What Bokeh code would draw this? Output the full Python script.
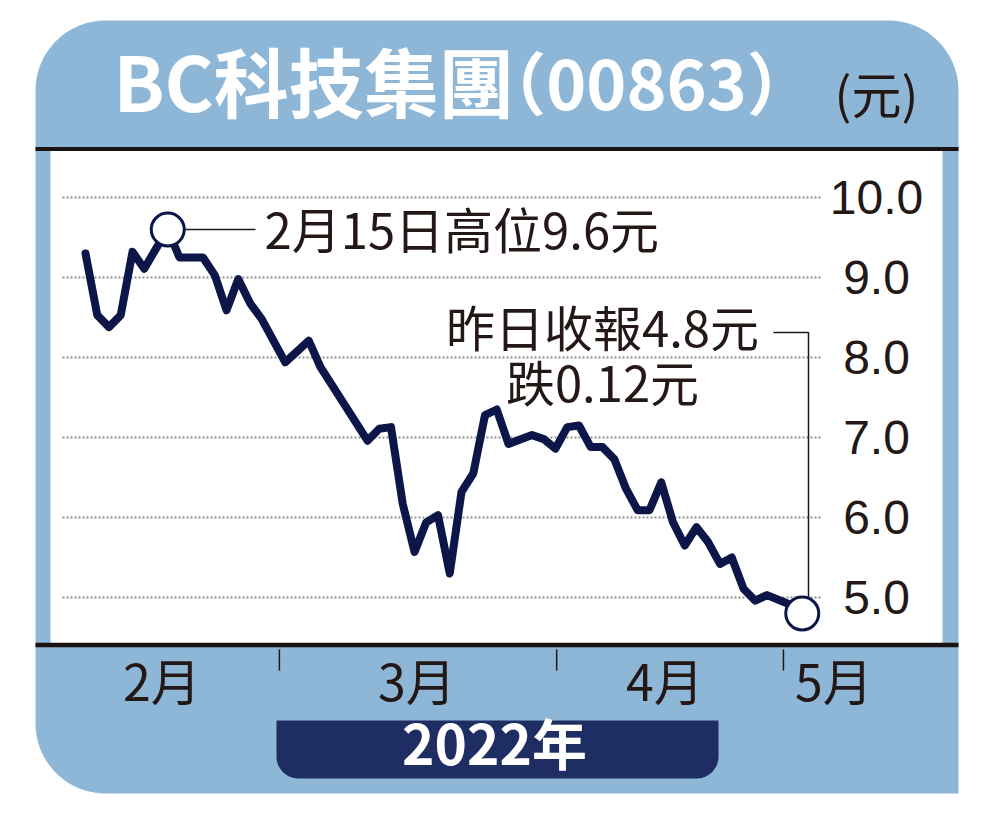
import numpy as np
from bokeh.plotting import figure
from bokeh.models import Range1d
from bokeh.core.properties import value
from bokeh.embed import file_html
from bokeh.resources import INLINE

# ---------------- data ----------------
title_main = "BC科技集團"
title_code = "（00863）"
unit_text = "(元)"
year_text = "2022年"

# trading-day index and closing price (HK$)
day = [0, 1, 2, 3, 4, 5, 6, 7, 8, 9, 10, 11, 12, 13, 14, 15, 17, 19, 20,
       24, 25, 26, 27, 28, 29, 30, 31, 32, 33, 34, 35, 36, 38, 39, 40, 41,
       42, 43, 44, 45, 46, 47, 48, 49, 50, 51, 52, 53, 54, 55, 56, 57, 58,
       60, 61]
price = [9.30, 8.53, 8.38, 8.53, 9.32, 9.11, 9.36, 9.60, 9.25, 9.25, 9.25,
         9.03, 8.59, 8.98, 8.68, 8.48, 7.94, 8.21, 7.88,
         6.96, 7.11, 7.13, 6.17, 5.57, 5.94, 6.03, 5.30, 6.32, 6.55, 7.28,
         7.35, 6.92, 7.03, 6.98, 6.86, 7.13,
         7.15, 6.88, 6.88, 6.73, 6.36, 6.09, 6.09, 6.44, 5.94, 5.65, 5.88,
         5.69, 5.42, 5.50, 5.11, 4.96, 5.03,
         4.91, 4.80]

y_ticks = [5, 6, 7, 8, 9, 10]
y_tick_labels = ["5.0", "6.0", "7.0", "8.0", "9.0", "10.0"]
month_labels = ["2月", "3月", "4月", "5月"]

high_day, high_price = 7, 9.6
last_day, last_price = 61, 4.8
high_note = "2月15日高位9.6元"
close_notes = ["昨日收報4.8元", "跌0.12元"]

# ---------------- layout (positions) ----------------
month_label_pos = [6.5, 28.2, 49.3, 63.7]
month_tick_pos = [16.5, 40.1, 59.4]

W, H = 984, 808
PX_DAY0, PX_PER_DAY = 85.0, 11.75
PX_V10, PX_PER_UNIT = 197.0, 80.0


def dx(px):
    return (px - PX_DAY0) / PX_PER_DAY


def dy(py):
    return 10 - (py - PX_V10) / PX_PER_UNIT


def cjk_y(py, size):
    # visual centre correction for CJK font "middle" baseline
    return dy(py - 0.13 * size)


def rrect(x0, y0, x1, y1, rtl, rtr, rbr, rbl, n=30):
    xs, ys = [], []

    def corner(cx, cy, r, a0, a1, px, py):
        if r <= 0:
            xs.append(px); ys.append(py)
            return
        for t in np.linspace(a0, a1, n):
            xs.append(cx + r * np.cos(t)); ys.append(cy + r * np.sin(t))

    corner(x0 + rtl, y0 + rtl, rtl, np.pi, 1.5 * np.pi, x0, y0)
    corner(x1 - rtr, y0 + rtr, rtr, 1.5 * np.pi, 2 * np.pi, x1, y0)
    corner(x1 - rbr, y1 - rbr, rbr, 0, 0.5 * np.pi, x1, y1)
    corner(x0 + rbl, y1 - rbl, rbl, 0.5 * np.pi, np.pi, x0, y1)
    return [dx(v) for v in xs], [dy(v) for v in ys]


BLUE = "#8db6d7"
NAVY_LINE = "#0c1648"
NAVY_BOX = "#1e2d62"
INK = "#231815"
CJK = value("Noto Sans CJK TC")
LAT = value("Liberation Sans")

p = figure(width=W, height=H, output_backend="svg", toolbar_location=None,
           x_range=Range1d(dx(0), dx(W)), y_range=Range1d(dy(H), dy(0)),
           x_axis_type=None, y_axis_type=None, min_border=0,
           outline_line_color=None, background_fill_color="white",
           border_fill_color="white")
p.grid.visible = False

# outer blue frame
fx, fy = rrect(35, 20, 958, 793, 70, 70, 0, 70)
p.patch(fx, fy, fill_color=BLUE, line_color=None)

# white plotting panel
p.quad(left=dx(50), right=dx(942), top=dy(149), bottom=dy(645),
       fill_color="white", line_color=None)

# black rules
p.segment(x0=dx(35), x1=dx(958), y0=dy(148.5), y1=dy(148.5), line_color="#1a1311", line_width=4)
p.segment(x0=dx(35), x1=dx(958), y0=dy(644.5), y1=dy(644.5), line_color="#1a1311", line_width=4.5)

# dotted gridlines
p.segment(x0=[dx(62)] * len(y_ticks), x1=[dx(820)] * len(y_ticks), y0=y_ticks, y1=y_ticks,
          line_color="#8f8f8f", line_width=2, line_dash="2 2")

# y tick labels
p.text(x=[dx(876)] * len(y_ticks), y=y_ticks, text=y_tick_labels, text_font=LAT,
       text_font_size="48px", text_color=INK, text_align="center", text_baseline="middle")

# price line
p.line(day, price, line_color=NAVY_LINE, line_width=8, line_join="round", line_cap="round")

# leader lines
p.segment(x0=[dx(183)], x1=[dx(255)], y0=[high_price], y1=[high_price], line_color=INK, line_width=1.5)
p.line([dx(773), dx(808), dx(808)], [dy(332), dy(332), dy(600)], line_color=INK, line_width=1.5)

# marker circles
p.scatter([high_day, last_day], [high_price, last_price], size=33, marker="circle",
          fill_color="white", line_color=NAVY_LINE, line_width=3)

# annotations
NOTE = 49
p.text(x=[dx(264)], y=[cjk_y(233, NOTE)], text=[high_note], text_font=CJK,
       text_font_size=f"{NOTE}px", text_color=INK, text_align="left", text_baseline="middle")
p.text(x=[dx(602), dx(602)], y=[cjk_y(331, NOTE), cjk_y(386, NOTE)], text=close_notes,
       text_font=CJK, text_font_size=f"{NOTE}px", text_color=INK, text_align="center",
       text_baseline="middle")

# x ticks and month labels
MON = 50
p.segment(x0=month_tick_pos, x1=month_tick_pos, y0=[dy(649)] * 3, y1=[dy(670)] * 3,
          line_color=INK, line_width=1.5)
p.text(x=month_label_pos, y=[cjk_y(685, MON)] * len(month_labels), text=month_labels,
       text_font=CJK, text_font_size=f"{MON}px", text_color=INK, text_align="center",
       text_baseline="middle")

# year box
bx, by = rrect(276, 720, 718, 778, 0, 0, 22, 22)
p.patch(bx, by, fill_color=NAVY_BOX, line_color=None)
YR = 55
p.text(x=[dx(494)], y=[cjk_y(748, YR)], text=[year_text], text_font=CJK,
       text_font_size=f"{YR}px", text_font_style="bold", text_color="white",
       text_align="center", text_baseline="middle")

# title
TT = 75
p.text(x=[dx(113)], y=[cjk_y(89, TT)], text=[title_main], text_font=CJK,
       text_font_size=f"{TT}px", text_font_style="bold", text_color="white",
       text_align="left", text_baseline="middle")
TC = 68
p.text(x=[dx(646)], y=[cjk_y(89, TC)], text=[title_code], text_font=CJK,
       text_font_size=f"{TC}px", text_font_style="bold", text_color="white",
       text_align="center", text_baseline="middle")
UN = 50
p.text(x=[dx(876)], y=[cjk_y(98, UN)], text=[unit_text], text_font=CJK,
       text_font_size=f"{UN}px", text_color=INK, text_align="center", text_baseline="middle")

open("out.html", "w").write(file_html(p, INLINE))
